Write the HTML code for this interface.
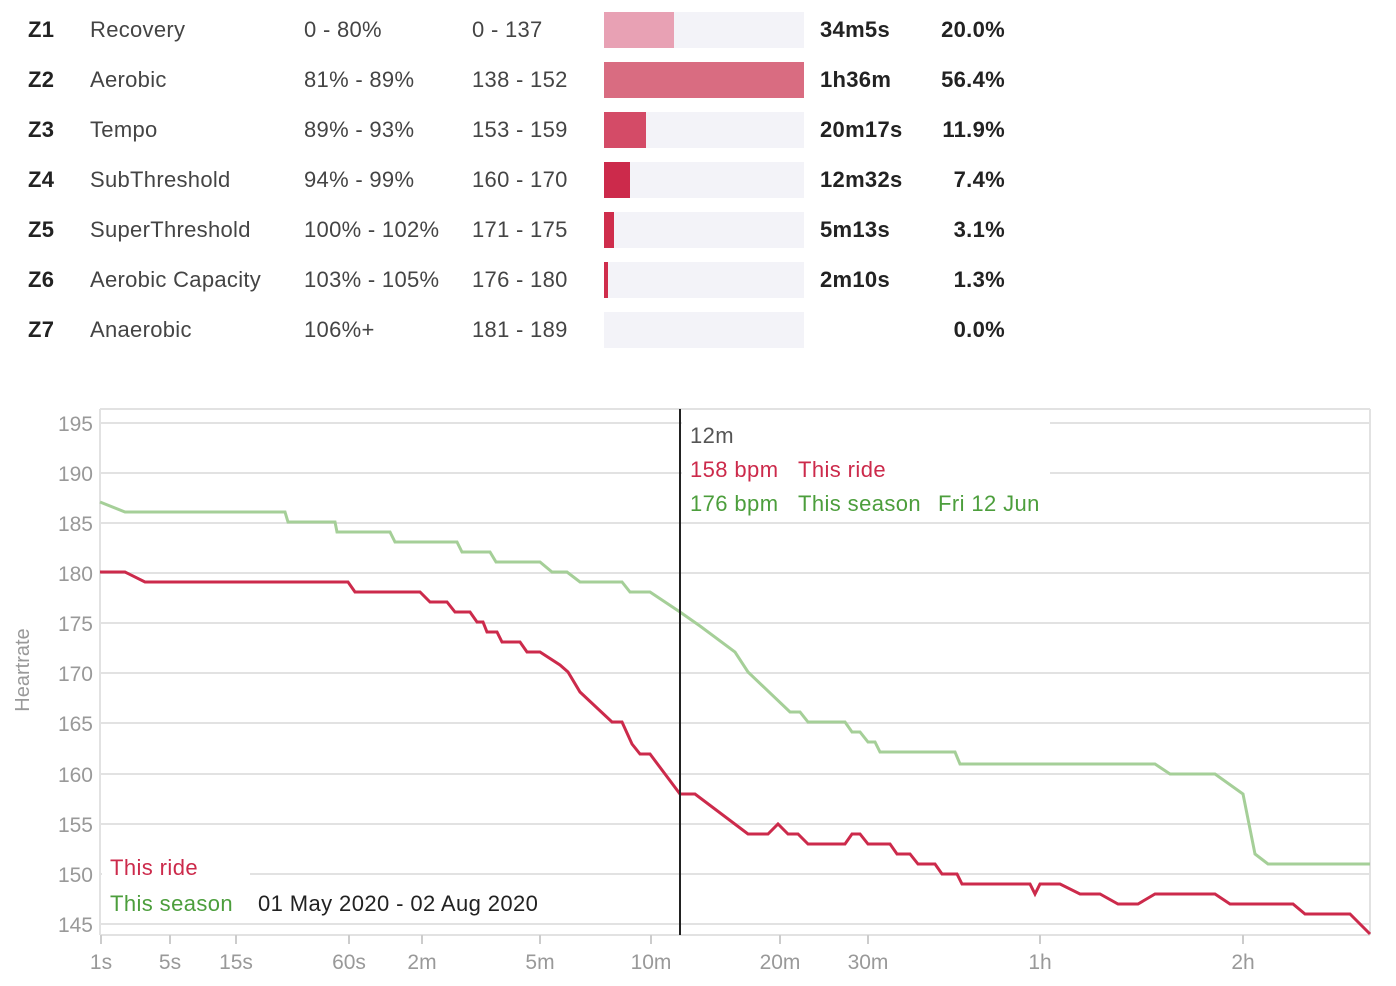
<!DOCTYPE html><html><head><style>
body{margin:0;width:1396px;height:986px;background:#fff;font-family:"Liberation Sans",sans-serif;overflow:hidden}
.r{position:absolute;font-size:22px;color:#444;height:36px;line-height:36px;letter-spacing:0.3px}
.bar{position:absolute;left:604px;width:200px;height:36px;background:#f3f3f8}
.bar div{height:36px}
</style></head><body>
<div id="t"></div>
<script>
var rows=[["Z1","Recovery","0 - 80%","0 - 137",70,"#e8a1b4","34m5s","20.0%"],
["Z2","Aerobic","81% - 89%","138 - 152",200,"#d96c81","1h36m","56.4%"],
["Z3","Tempo","89% - 93%","153 - 159",42,"#d44b67","20m17s","11.9%"],
["Z4","SubThreshold","94% - 99%","160 - 170",26,"#cc2a4b","12m32s","7.4%"],
["Z5","SuperThreshold","100% - 102%","171 - 175",10,"#cf2d4c","5m13s","3.1%"],
["Z6","Aerobic Capacity","103% - 105%","176 - 180",4,"#cf2d4c","2m10s","1.3%"],
["Z7","Anaerobic","106%+","181 - 189",0,"#cf2d4c","","0.0%"]];
var h="";rows.forEach(function(r,i){var y=12+i*50;
h+='<div class="r" style="left:28px;top:'+y+'px;color:#222;font-weight:bold">'+r[0]+'</div>'+
'<div class="r" style="left:90px;top:'+y+'px">'+r[1]+'</div>'+
'<div class="r" style="left:304px;top:'+y+'px">'+r[2]+'</div>'+
'<div class="r" style="left:472px;top:'+y+'px">'+r[3]+'</div>'+
'<div class="bar" style="top:'+y+'px"><div style="width:'+r[4]+'px;background:'+r[5]+'"></div></div>'+
'<div class="r" style="left:820px;top:'+y+'px;color:#222;font-weight:bold">'+r[6]+'</div>'+
'<div class="r" style="left:905px;width:100px;text-align:right;top:'+y+'px;color:#222;font-weight:bold">'+r[7]+'</div>';});
document.getElementById("t").innerHTML=h;
</script>
<svg width="1396" height="986" style="position:absolute;left:0;top:0" font-family="Liberation Sans, sans-serif">
<g stroke="#e2e2e2" stroke-width="2">
<line x1="100" y1="409" x2="1370" y2="409"/><line x1="1370" y1="409" x2="1370" y2="935"/>
<line x1="100" y1="423" x2="1370" y2="423"/><line x1="100" y1="473" x2="1370" y2="473"/><line x1="100" y1="523" x2="1370" y2="523"/><line x1="100" y1="573" x2="1370" y2="573"/><line x1="100" y1="623" x2="1370" y2="623"/><line x1="100" y1="673" x2="1370" y2="673"/><line x1="100" y1="723" x2="1370" y2="723"/><line x1="100" y1="774" x2="1370" y2="774"/><line x1="100" y1="824" x2="1370" y2="824"/><line x1="100" y1="874" x2="1370" y2="874"/><line x1="100" y1="924" x2="1370" y2="924"/>
<line x1="100" y1="935" x2="1370" y2="935"/><line x1="100" y1="409" x2="100" y2="935"/>
<g stroke="#ccc"><line x1="101" y1="935" x2="101" y2="944"/><line x1="170" y1="935" x2="170" y2="944"/><line x1="236" y1="935" x2="236" y2="944"/><line x1="349" y1="935" x2="349" y2="944"/><line x1="422" y1="935" x2="422" y2="944"/><line x1="540" y1="935" x2="540" y2="944"/><line x1="651" y1="935" x2="651" y2="944"/><line x1="780" y1="935" x2="780" y2="944"/><line x1="868" y1="935" x2="868" y2="944"/><line x1="1040" y1="935" x2="1040" y2="944"/><line x1="1243" y1="935" x2="1243" y2="944"/></g>
</g>
<g fill="#999" font-size="21" text-anchor="end">
<text x="93" y="431">195</text><text x="93" y="481">190</text><text x="93" y="531">185</text><text x="93" y="581">180</text><text x="93" y="631">175</text><text x="93" y="681">170</text><text x="93" y="731">165</text><text x="93" y="782">160</text><text x="93" y="832">155</text><text x="93" y="882">150</text><text x="93" y="932">145</text>
</g>
<g fill="#999" font-size="21" text-anchor="middle">
<text x="101" y="969">1s</text><text x="170" y="969">5s</text><text x="236" y="969">15s</text><text x="349" y="969">60s</text><text x="422" y="969">2m</text><text x="540" y="969">5m</text><text x="651" y="969">10m</text><text x="780" y="969">20m</text><text x="868" y="969">30m</text><text x="1040" y="969">1h</text><text x="1243" y="969">2h</text>
</g>
<text transform="translate(29,670) rotate(-90)" fill="#999" font-size="20" text-anchor="middle">Heartrate</text>
<polyline fill="none" stroke="#a5cf98" stroke-width="3" points="100,502 125,512 285,512 288,522 335,522 337,532 390,532 395,542 457,542 462,552 490,552 496,562 540,562 552,572 567,572 580,582 622,582 630,592 650,592 680,612 700,626 735,652 748,672 790,712 800,712 808,722 845,722 852,732 860,732 868,742 875,742 880,752 955,752 960,764 1155,764 1170,774 1215,774 1243,794 1255,854 1268,864 1370,864"/>
<polyline fill="none" stroke="#cc2a4b" stroke-width="3" points="100,572 125,572 145,582 348,582 355,592 420,592 430,602 447,602 455,612 470,612 477,622 483,622 487,632 497,632 502,642 520,642 527,652 540,652 560,665 568,672 580,692 612,722 622,722 632,744 640,754 650,754 680,794 695,794 748,834 768,834 778,824 788,834 798,834 808,844 845,844 852,834 860,834 868,844 890,844 897,854 910,854 918,864 935,864 942,874 957,874 962,884 1030,884 1035,894 1040,884 1060,884 1080,894 1100,894 1118,904 1138,904 1155,894 1215,894 1230,904 1293,904 1305,914 1350,914 1370,934"/>
<rect x="682" y="416" width="368" height="104" fill="#fff"/>
<line x1="680" y1="409" x2="680" y2="935" stroke="#222" stroke-width="2"/>
<g font-size="22" letter-spacing="0.4"><text x="690" y="443" fill="#555">12m</text>
<text x="690" y="477" fill="#cc2a4b">158 bpm</text><text x="798" y="477" fill="#cc2a4b">This ride</text>
<text x="690" y="511" fill="#4c9e3c">176 bpm</text><text x="798" y="511" fill="#4c9e3c">This season</text><text x="938" y="511" fill="#4c9e3c">Fri 12 Jun</text></g>
<rect x="102" y="852" width="148" height="30" fill="#fff"/>
<rect x="102" y="884" width="460" height="36" fill="#fff"/>
<g font-size="22" letter-spacing="0.4"><text x="110" y="875" fill="#cc2a4b">This ride</text>
<text x="110" y="911" fill="#4c9e3c">This season</text>
<text x="258" y="911" fill="#222">01 May 2020 - 02 Aug 2020</text></g>
</svg>
</body></html>
